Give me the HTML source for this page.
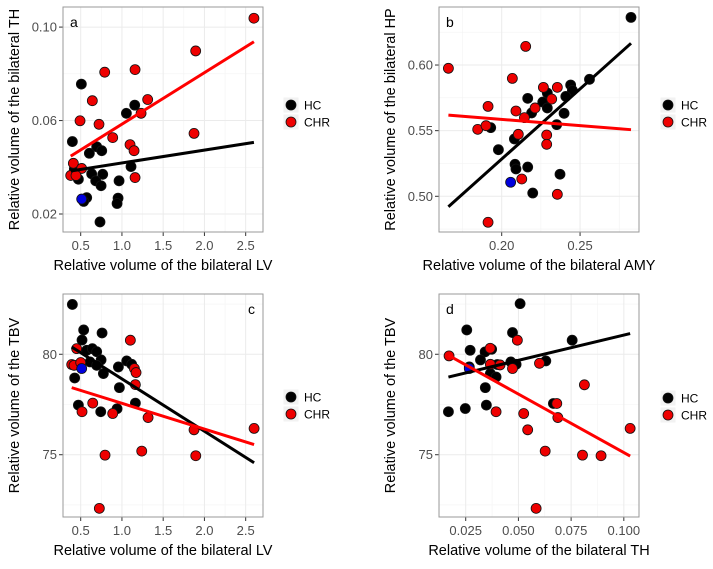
<!DOCTYPE html>
<html><head><meta charset="utf-8"><style>
body{margin:0;background:#fff;}
svg text{font-family:"Liberation Sans",sans-serif;}
</style></head><body>
<svg id="chart" width="713" height="564" xmlns="http://www.w3.org/2000/svg"></svg>
<script>
// Panel a: LV vs TH
const aHCx=[0.508,0.399,1.155,1.054,0.694,0.755,0.605,0.423,1.110,0.633,0.767,0.472,0.682,0.965,0.747,0.573,0.536,0.953,0.941,0.734];
const aHCy=[0.0756,0.0510,0.0666,0.0631,0.0488,0.0471,0.0460,0.0393,0.0403,0.0372,0.0370,0.0349,0.0342,0.0342,0.0321,0.0270,0.0254,0.0268,0.0245,0.0166];
const aCHRx=[2.60,1.894,0.791,1.159,0.641,1.312,1.232,0.492,0.722,0.888,1.874,1.098,1.147,0.411,0.512,0.379,0.443,1.159];
const aCHRy=[0.1038,0.0898,0.0807,0.0818,0.0685,0.0690,0.0631,0.0599,0.0584,0.0527,0.0545,0.0497,0.0471,0.0417,0.0395,0.0365,0.0365,0.0356];
const aBlue=[0.512,0.0264];
// Panel b: AMY vs HP
const bHCx=[0.2825,0.2560,0.2440,0.2451,0.2409,0.2291,0.2262,0.2291,0.2166,0.2191,0.2398,0.2351,0.1930,0.2081,0.1979,0.2085,0.2091,0.2166,0.2372,0.2198];
const bHCy=[0.6363,0.5891,0.5848,0.5807,0.5761,0.5787,0.5718,0.5673,0.5746,0.5635,0.5632,0.5546,0.5523,0.5437,0.5355,0.5244,0.5208,0.5223,0.5168,0.5025];
const bCHRx=[0.1660,0.2153,0.2068,0.1913,0.2266,0.2355,0.2319,0.2091,0.2213,0.2145,0.1847,0.1900,0.2106,0.2287,0.2287,0.2128,0.2355,0.1913];
const bCHRy=[0.5975,0.6142,0.5898,0.5685,0.5830,0.5830,0.5741,0.5650,0.5673,0.5599,0.5510,0.5538,0.5472,0.5467,0.5396,0.5132,0.5015,0.4802];
const bBlue=[0.2057,0.5107];
// Panel c: LV vs TBV
const cHCx=[0.399,0.536,0.759,0.516,0.573,0.641,0.694,0.747,0.613,0.694,1.058,1.118,0.957,0.775,0.427,0.969,1.163,0.472,0.743,0.941];
const cHCy=[82.48,81.21,81.06,80.71,80.20,80.28,80.13,79.72,79.62,79.45,79.67,79.50,79.37,79.04,78.82,78.34,77.57,77.47,77.14,77.29];
const cCHRx=[0.451,0.391,0.419,0.500,1.102,1.151,1.171,1.163,0.646,0.516,0.888,1.317,1.874,2.602,0.795,1.240,1.895,0.726];
const cCHRy=[80.28,79.49,79.45,79.59,80.70,79.29,79.09,78.49,77.57,77.14,77.05,76.85,76.24,76.31,74.98,75.18,74.95,72.33];
const cBlue=[0.512,79.29];
// Panel d: TH vs TBV
const dHCx=[0.0508,0.0255,0.0472,0.0755,0.0271,0.0342,0.0320,0.0373,0.0464,0.0489,0.0630,0.0400,0.0267,0.0367,0.0394,0.0343,0.0666,0.0348,0.0248,0.0168];
const dHCy=[82.52,81.21,81.08,80.70,80.20,80.12,79.72,80.25,79.62,79.50,79.67,79.49,79.37,79.04,78.87,78.34,77.55,77.47,77.30,77.14];
const dCHRx=[0.0171,0.0366,0.0495,0.0367,0.0413,0.0472,0.0600,0.0813,0.0682,0.0687,0.0394,0.0525,0.0544,0.0627,0.0804,0.0892,0.1030,0.0584];
const dCHRy=[79.92,80.30,80.70,79.50,79.47,79.29,79.55,78.48,77.55,76.85,77.14,77.05,76.24,75.18,74.98,74.95,76.31,72.33];
const dBlue=[0.0267,79.29];
// tick labels
const aXTicks=[0.5,1.0,1.5,2.0,2.5], aXLab=["0.5","1.0","1.5","2.0","2.5"];
const aYTicks=[0.02,0.06,0.10], aYLab=["0.02","0.06","0.10"];
const bXTicks=[0.20,0.25], bXLab=["0.20","0.25"];
const bYTicks=[0.50,0.55,0.60], bYLab=["0.50","0.55","0.60"];
const cYTicks=[75,80], cYLab=["75","80"];
const dXTicks=[0.025,0.050,0.075,0.100], dXLab=["0.025","0.050","0.075","0.100"];

const NS="http://www.w3.org/2000/svg";
const svg=document.getElementById('chart');
function mk(tag,attrs,parent){const e=document.createElementNS(NS,tag);for(const k in attrs)e.setAttribute(k,attrs[k]);(parent||svg).appendChild(e);return e;}
function fit(xs,ys){const n=xs.length;let mx=0,my=0;for(let i=0;i<n;i++){mx+=xs[i];my+=ys[i];}mx/=n;my/=n;let sxy=0,sxx=0;for(let i=0;i<n;i++){sxy+=(xs[i]-mx)*(ys[i]-my);sxx+=(xs[i]-mx)**2;}const b=sxy/sxx;return [my-b*mx,b];}

function panel(p){
  const g=mk('g',{});
  
  
  const X=v=>p.L+(v-p.x0)/(p.x1-p.x0)*(p.R-p.L);
  const Y=v=>p.B-(v-p.y0)/(p.y1-p.y0)*(p.B-p.T);
  mk('rect',{x:p.L,y:p.T,width:p.R-p.L,height:p.B-p.T,fill:'#fff'},g);
  // minor grid
  const xm=[],ym=[];
  for(let i=0;i<p.xt.length-1;i++)xm.push((p.xt[i]+p.xt[i+1])/2);
  xm.push(p.xt[0]-(p.xt[1]-p.xt[0])/2);xm.push(p.xt[p.xt.length-1]+(p.xt[1]-p.xt[0])/2);
  for(let i=0;i<p.yt.length-1;i++)ym.push((p.yt[i]+p.yt[i+1])/2);
  ym.push(p.yt[0]-(p.yt[1]-p.yt[0])/2);ym.push(p.yt[p.yt.length-1]+(p.yt[1]-p.yt[0])/2);
  xm.forEach(v=>{const x=X(v);if(x>p.L&&x<p.R)mk('line',{x1:x,x2:x,y1:p.T,y2:p.B,stroke:'#f3f3f3','stroke-width':0.6},g);});
  ym.forEach(v=>{const y=Y(v);if(y>p.T&&y<p.B)mk('line',{x1:p.L,x2:p.R,y1:y,y2:y,stroke:'#f3f3f3','stroke-width':0.6},g);});
  p.xt.forEach((v,i)=>{const x=X(v);
    mk('line',{x1:x,x2:x,y1:p.T,y2:p.B,stroke:'#ebebeb','stroke-width':1},g);
    mk('line',{x1:x,x2:x,y1:p.B,y2:p.B+4,stroke:'#333','stroke-width':1},g);
    const t=mk('text',{x:x,y:p.B+18,'text-anchor':'middle','font-size':13,fill:'#4d4d4d'},g);t.textContent=p.xl[i];
    
    
  });
  p.yt.forEach((v,i)=>{const y=Y(v);
    mk('line',{x1:p.L,x2:p.R,y1:y,y2:y,stroke:'#ebebeb','stroke-width':1},g);
    mk('line',{x1:p.L-4,x2:p.L,y1:y,y2:y,stroke:'#333','stroke-width':1},g);
    const t=mk('text',{x:p.L-6,y:y+4.5,'text-anchor':'end','font-size':13,fill:'#4d4d4d'},g);t.textContent=p.yl[i];
    
    
  });
  const xs=p.hx.concat(p.cx);const xmin=Math.min(...xs),xmax=Math.max(...xs);
  const dot=(x,y,c,nm)=>{const d=mk('circle',{cx:X(x),cy:Y(y),r:5,fill:c,stroke:'#111','stroke-width':0.8},g);
    
    };
  p.hx.forEach((v,i)=>dot(v,p.hy[i],'#000','point-hc'));
  p.cx.forEach((v,i)=>dot(v,p.cy[i],'#ee0000','point-chr'));
  dot(p.blue[0],p.blue[1],'#0000dd','point-highlight');
  [[p.hx,p.hy,'#000','fit-line-hc'],[p.cx,p.cy,'#ff0000','fit-line-chr']].forEach(s=>{
    const [a,b]=fit(s[0],s[1]);
    const l=mk('line',{x1:X(xmin),y1:Y(a+b*xmin),x2:X(xmax),y2:Y(a+b*xmax),stroke:s[2],'stroke-width':3},g);
    
    
  });
  mk('rect',{x:p.L,y:p.T,width:p.R-p.L,height:p.B-p.T,fill:'none',stroke:'#999','stroke-width':1},g);
  const lb=mk('text',{x:p.lbr?p.R-8:p.L+7,y:p.T+20,'text-anchor':p.lbr?'end':'start','font-size':14,fill:'#000'},g);lb.textContent=p.id;
  
  
  const xt=mk('text',{x:(p.L+p.R)/2,y:p.B+38,'text-anchor':'middle','font-size':14.5,fill:'#000'},g);xt.textContent=p.xtitle;
  
  
  const yc=(p.T+p.B)/2;
  const yt=mk('text',{x:p.ytx,y:yc,'text-anchor':'middle','font-size':14.5,fill:'#000',transform:`rotate(-90 ${p.ytx} ${yc})`},g);yt.textContent=p.ytitle;
  
  
  // legend
  const lg=mk('g',{},g);
  
  
  [['HC','#000',0],['CHR','#ee0000',17]].forEach(e=>{
    mk('rect',{x:p.lgx,y:p.lgy+e[2]-8,width:16,height:16,fill:'#f2f2f2',stroke:'#fff'},lg);
    mk('circle',{cx:p.lgx+8,cy:p.lgy+e[2],r:5,fill:e[1],stroke:'#111','stroke-width':0.8},lg);
    const t=mk('text',{x:p.lgx+21,y:p.lgy+e[2]+4.5,'font-size':12,fill:'#000'},lg);t.textContent=e[0];
    
    
  });
}
panel({id:'a',L:63,R:263,T:7,B:232,x0:0.2855,x1:2.710,y0:0.0123,y1:0.1086,xt:aXTicks,xl:aXLab,yt:aYTicks,yl:aYLab,
  hx:aHCx,hy:aHCy,cx:aCHRx,cy:aCHRy,blue:aBlue,xtitle:'Relative volume of the bilateral LV',ytitle:'Relative volume of the bilateral TH',ytx:19,lgx:283,lgy:105});
panel({id:'b',L:439,R:639,T:7,B:232,x0:0.16,x1:0.2876,y0:0.4728,y1:0.6442,xt:bXTicks,xl:bXLab,yt:bYTicks,yl:bYLab,
  hx:bHCx,hy:bHCy,cx:bCHRx,cy:bCHRy,blue:bBlue,xtitle:'Relative volume of the bilateral AMY',ytitle:'Relative volume of the bilateral HP',ytx:395,lgx:660,lgy:105});
panel({id:'c',L:63,R:263,T:294,B:517,x0:0.2855,x1:2.710,y0:71.9,y1:83.0,xt:aXTicks,xl:aXLab,yt:cYTicks,yl:cYLab,lbr:true,
  hx:cHCx,hy:cHCy,cx:cCHRx,cy:cCHRy,blue:cBlue,xtitle:'Relative volume of the bilateral LV',ytitle:'Relative volume of the TBV',ytx:19,lgx:283,lgy:397});
panel({id:'d',L:439,R:639,T:294,B:517,x0:0.01233,x1:0.1072,y0:71.9,y1:83.0,xt:dXTicks,xl:dXLab,yt:cYTicks,yl:cYLab,
  hx:dHCx,hy:dHCy,cx:dCHRx,cy:dCHRy,blue:dBlue,xtitle:'Relative volume of the bilateral TH',ytitle:'Relative volume of the TBV',ytx:395,lgx:660,lgy:398});
</script>
</body></html>
